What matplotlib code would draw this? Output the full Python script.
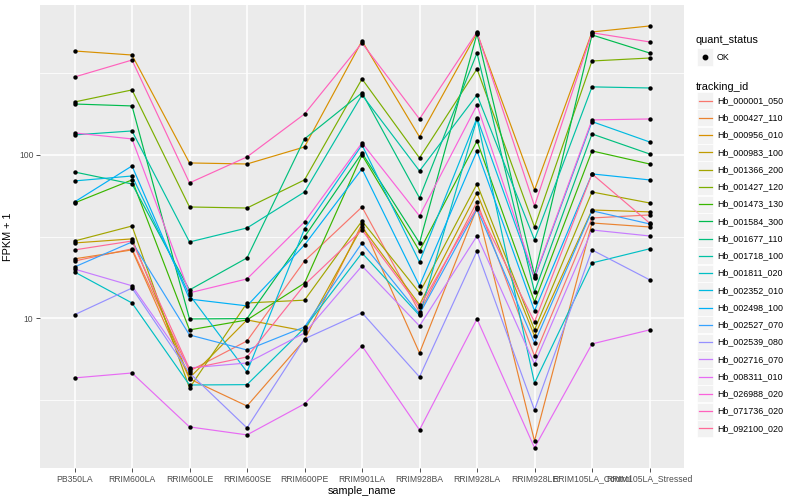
import math
import matplotlib
matplotlib.use("Agg")
import matplotlib.pyplot as plt
from matplotlib.patches import Rectangle
from matplotlib.lines import Line2D
from matplotlib.ticker import FixedLocator, NullFormatter

plt.rcParams['font.family'] = ['Liberation Sans', 'DejaVu Sans']

samples = ["PB350LA", "RRIM600LA", "RRIM600LE", "RRIM600SE", "RRIM600PE",
           "RRIM901LA", "RRIM928BA", "RRIM928LA", "RRIM928LE",
           "RRIM105LA_Control", "RRIM105LA_Stressed"]

tracking_ids = ["Hb_000001_050", "Hb_000427_110", "Hb_000956_010", "Hb_000983_100",
                "Hb_001366_200", "Hb_001427_120", "Hb_001473_130", "Hb_001584_300",
                "Hb_001677_110", "Hb_001718_100", "Hb_001811_020", "Hb_002352_010",
                "Hb_002498_100", "Hb_002527_070", "Hb_002539_080", "Hb_002716_070",
                "Hb_008311_010", "Hb_026988_020", "Hb_071736_020", "Hb_092100_020"]

# FPKM + 1 per sample (order of `samples`)
hb_000001_050 = [22.4, 26.6, 4.75, 7.26, 22.4, 48.0, 10.9, 51.5, 5.87, 41.1, 42.9]
hb_000427_110 = [23.1, 26.2, 4.25, 2.90, 7.36, 37.8, 6.13, 47.3, 1.77, 38.3, 36.2]
hb_000956_010 = [433, 409, 89.3, 88.0, 111.9, 499, 128.9, 558, 61.0, 566, 616]
hb_000983_100 = [28.9, 30.6, 4.31, 9.76, 8.36, 36.2, 12.1, 58.5, 7.79, 46.0, 44.8]
hb_001366_200 = [29.7, 36.7, 3.74, 12.4, 12.9, 39.4, 14.3, 66.4, 8.48, 59.3, 50.8]
hb_001427_120 = [211, 250, 48.0, 47.3, 70.3, 292, 95.8, 336, 36.2, 376, 392]
hb_001473_130 = [50.8, 70.3, 8.48, 9.76, 16.4, 99.9, 25.8, 121.8, 12.6, 105.8, 88.0]
hb_001584_300 = [205, 199.5, 9.9, 9.95, 31.5, 102.8, 28.9, 551, 18.4, 543, 421]
hb_001677_110 = [78.6, 66.4, 14.9, 23.4, 125.3, 240, 54.5, 421, 14.5, 134.4, 101.4]
hb_001718_100 = [132.6, 140.2, 29.3, 35.7, 59.3, 233, 79.8, 233, 30.2, 261, 257]
hb_001811_020 = [19.2, 12.4, 3.90, 3.92, 8.71, 25.1, 10.4, 166, 4.01, 21.8, 26.6]
hb_002352_010 = [69.3, 74.3, 13.9, 4.69, 35.2, 115.1, 22.1, 168.4, 17.6, 160, 120.1]
hb_002498_100 = [51.5, 85.6, 13.1, 11.9, 28.1, 82.1, 15.8, 105.8, 11.1, 76.5, 70.3]
hb_002527_070 = [20.6, 29.3, 7.90, 6.39, 8.84, 28.9, 10.6, 46.7, 7.06, 45.5, 37.8]
hb_002539_080 = [10.5, 15.3, 4.62, 2.13, 7.47, 10.8, 4.37, 25.8, 2.74, 26.2, 17.2]
hb_002716_070 = [20.0, 15.8, 4.96, 5.32, 8.12, 20.9, 8.97, 31.9, 5.25, 34.7, 31.9]
hb_008311_010 = [4.31, 4.62, 2.16, 1.93, 2.99, 6.77, 2.07, 9.9, 1.61, 6.96, 8.48]
hb_026988_020 = [136.3, 125.3, 14.3, 17.4, 38.9, 118.4, 42.3, 202, 17.9, 163.8, 166]
hb_071736_020 = [300, 381, 67.4, 97.2, 178, 485, 166, 566, 48.7, 560, 492]
hb_092100_020 = [26.2, 29.7, 4.89, 5.79, 16.0, 34.7, 11.7, 48.0, 9.49, 76.5, 38.3]

series = [hb_000001_050, hb_000427_110, hb_000956_010, hb_000983_100, hb_001366_200,
          hb_001427_120, hb_001473_130, hb_001584_300, hb_001677_110, hb_001718_100,
          hb_001811_020, hb_002352_010, hb_002498_100, hb_002527_070, hb_002539_080,
          hb_002716_070, hb_008311_010, hb_026988_020, hb_071736_020, hb_092100_020]

status_labels = ["OK"]
y_ticks = [10, 100]


def hcl_to_hex(h, c=100.0, l=65.0):
    hr = math.radians(h)
    u = c * math.cos(hr)
    v = c * math.sin(hr)
    Xn, Yn, Zn = 95.047, 100.0, 108.883
    un = 4 * Xn / (Xn + 15 * Yn + 3 * Zn)
    vn = 9 * Yn / (Xn + 15 * Yn + 3 * Zn)
    Y = Yn * ((l + 16) / 116) ** 3 if l > 8 else Yn * l / 903.3
    up = u / (13 * l) + un
    vp = v / (13 * l) + vn
    X = 9.0 * Y * up / (4 * vp)
    Z = -X / 3 - 5 * Y + 3 * Y / vp
    X, Y, Z = X / 100, Y / 100, Z / 100
    r = 3.240479 * X - 1.537150 * Y - 0.498535 * Z
    g = -0.969256 * X + 1.875992 * Y + 0.041556 * Z
    b = 0.055648 * X - 0.204043 * Y + 1.057311 * Z

    def gam(t):
        t = 1.055 * t ** (1 / 2.4) - 0.055 if t > 0.0031308 else 12.92 * t
        return min(1.0, max(0.0, t))
    return (gam(r), gam(g), gam(b))


n = len(tracking_ids)
colors = [hcl_to_hex(15 + 360.0 * i / n) for i in range(n)]

W, H = 800, 500
fig = plt.figure(figsize=(8, 5), dpi=100)
ax = fig.add_axes([40 / W, 1 - 468 / H, (684 - 40) / W, (468 - 5) / H])
ax.set_facecolor("#EBEBEB")

xs = list(range(1, len(samples) + 1))
for vals, col in zip(series, colors):
    ax.plot(xs, vals, color=col, lw=0.85, zorder=3)
    ax.scatter(xs, vals, s=10, color="black", marker="o", zorder=4, linewidths=0)

ax.set_yscale("log")
ax.set_ylim(1.21, 828)
ax.set_xlim(0.4, len(samples) + 0.6)

ax.yaxis.set_major_locator(FixedLocator(y_ticks))
ax.yaxis.set_minor_locator(FixedLocator([10 ** 0.5, 10 ** 1.5, 10 ** 2.5]))
ax.yaxis.set_minor_formatter(NullFormatter())
ax.set_yticklabels([str(t) for t in y_ticks])
ax.set_xticks(xs)
ax.set_xticklabels(samples)

ax.grid(True, which="major", color="white", lw=1.1, zorder=0)
ax.grid(True, which="minor", axis="y", color="white", lw=0.55, zorder=0)
ax.set_axisbelow(True)
for sp in ax.spines.values():
    sp.set_visible(False)
ax.tick_params(axis="both", which="major", length=2.7, width=0.6, color="#333333",
               labelsize=6.2, labelcolor="#4D4D4D", pad=2)
ax.tick_params(axis="y", which="minor", length=0)

ax.set_xlabel("sample_name", fontsize=7.8, labelpad=2)
ax.set_ylabel("FPKM + 1", fontsize=7.8, labelpad=4)


def fx(px):
    return px / W


def fy(py):
    return 1 - py / H


# legend: quant_status
fig.text(fx(696), fy(40), "quant_status", fontsize=7.8, va="center", ha="left")
fig.add_artist(Rectangle((fx(697), fy(65.5)), 16 / W, 17 / H, transform=fig.transFigure,
                         facecolor="#F2F2F2", edgecolor="white", lw=0.5))
fig.add_artist(Line2D([fx(705)], [fy(57)], marker="o", markersize=3.2, color="black",
                      transform=fig.transFigure, lw=0))
fig.text(fx(717), fy(57), status_labels[0], fontsize=6.4, va="center", ha="left")

# legend: tracking_id
fig.text(fx(696), fy(87), "tracking_id", fontsize=7.8, va="center", ha="left")
for i, (name, col) in enumerate(zip(tracking_ids, colors)):
    yc = 100.7 + 17.25 * i
    fig.add_artist(Rectangle((fx(697), fy(yc + 8.5)), 16 / W, 17 / H,
                             transform=fig.transFigure, facecolor="#F2F2F2",
                             edgecolor="white", lw=0.5))
    fig.add_artist(Line2D([fx(698.5), fx(711.5)], [fy(yc), fy(yc)], color=col, lw=0.9,
                          transform=fig.transFigure))
    fig.text(fx(717), fy(yc), name, fontsize=6.4, va="center", ha="left")

fig.savefig("out.png", dpi=100)
